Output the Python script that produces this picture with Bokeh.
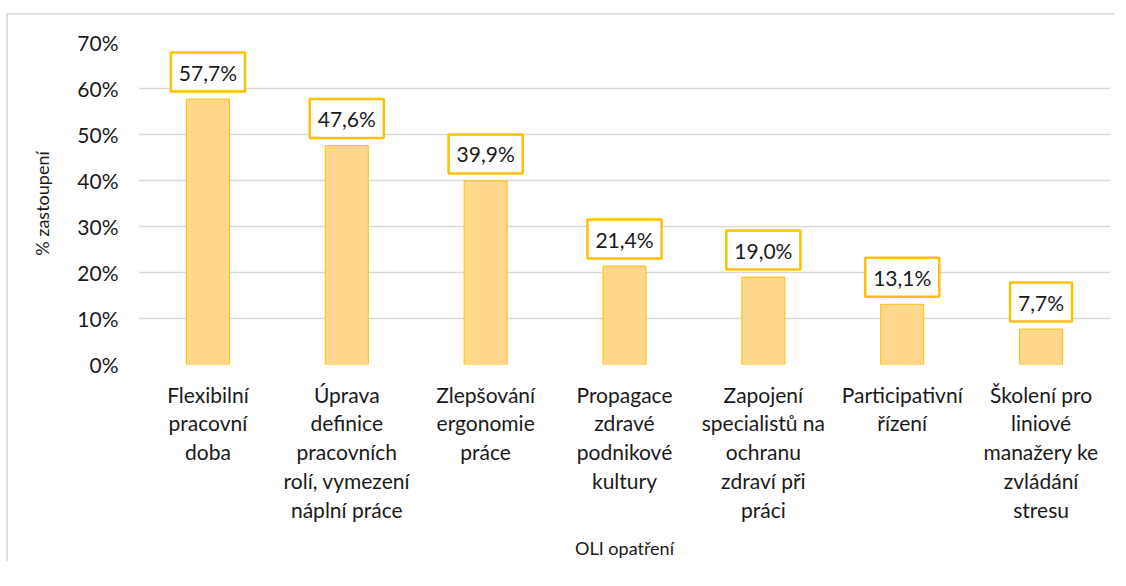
from bokeh.plotting import figure
from bokeh.models import FactorRange, Range1d, FixedTicker, PrintfTickFormatter, ColumnDataSource
from bokeh.embed import file_html
from bokeh.resources import INLINE
from bokeh.core.properties import value

categories = [
    "Flexibilní\npracovní\ndoba",
    "Úprava\ndefinice\npracovních\nrolí, vymezení\nnáplní práce",
    "Zlepšování\nergonomie\npráce",
    "Propagace\nzdravé\npodnikové\nkultury",
    "Zapojení\nspecialistů na\nochranu\nzdraví při\npráci",
    "Participativní\nřízení",
    "Školení pro\nliniové\nmanažery ke\nzvládání\nstresu",
]
values = [57.7, 47.6, 39.9, 21.4, 19.0, 13.1, 7.7]
y_ticks = [0, 10, 20, 30, 40, 50, 60, 70]
labels = [f"{v:.1f}".replace(".", ",") + "%" for v in values]

FONT = "Lato"

src = ColumnDataSource(dict(cat=categories, val=values, lab=labels))

p = figure(
    x_range=FactorRange(*categories, range_padding=0),
    y_range=Range1d(0, 70),
    frame_width=972, frame_height=322,
    output_backend="svg", toolbar_location=None,
    min_border_left=130, min_border_top=27, min_border_right=4, min_border_bottom=4,
)
p.styles = {"border-top": "2px solid #DEDEDE", "border-left": "2px solid #DEDEDE",
            "margin-top": "13px", "margin-left": "6px"}
p.outline_line_color = None
p.background_fill_color = "white"
p.border_fill_color = "white"

p.vbar(x="cat", top="val", width=0.31, source=src,
       fill_color="#FFD88D", line_color="#FFC000", line_width=1)

p.text(x="cat", y="val", text="lab", source=src, y_offset=-27,
       text_align="center", text_baseline="middle",
       text_font=value(FONT), text_font_size="21px", text_color="#1a1a1a",
       background_fill_color="white", border_line_color="#FFC000", border_line_width=2.5,
       padding=(8, 7))

p.xgrid.grid_line_color = None
p.ygrid.grid_line_color = "#D9D9D9"
p.ygrid.grid_line_width = 1.5

p.yaxis.ticker = FixedTicker(ticks=y_ticks)
p.yaxis.formatter = PrintfTickFormatter(format="%d%%")
for ax in (p.xaxis[0], p.yaxis[0]):
    ax.axis_line_color = None
    ax.major_tick_line_color = None
    ax.minor_tick_line_color = None
    ax.major_label_text_font = FONT
    ax.major_label_text_font_size = "21px"
    ax.major_label_text_color = "#1a1a1a"
    ax.axis_label_text_font = FONT
    ax.axis_label_text_font_size = "18px"
    ax.axis_label_text_font_style = "normal"
    ax.axis_label_text_color = "#1a1a1a"

p.xaxis.axis_label = "OLI opatření"
p.yaxis.axis_label = "% zastoupení"
p.xaxis.major_label_orientation = "horizontal"
p.xaxis.major_label_text_line_height = 1.15
p.xaxis.major_label_standoff = 11
p.xaxis.axis_label_standoff = 12
p.yaxis.major_label_standoff = 14
p.yaxis.axis_label_standoff = 21

open("out.html", "w").write(file_html(p, INLINE))
